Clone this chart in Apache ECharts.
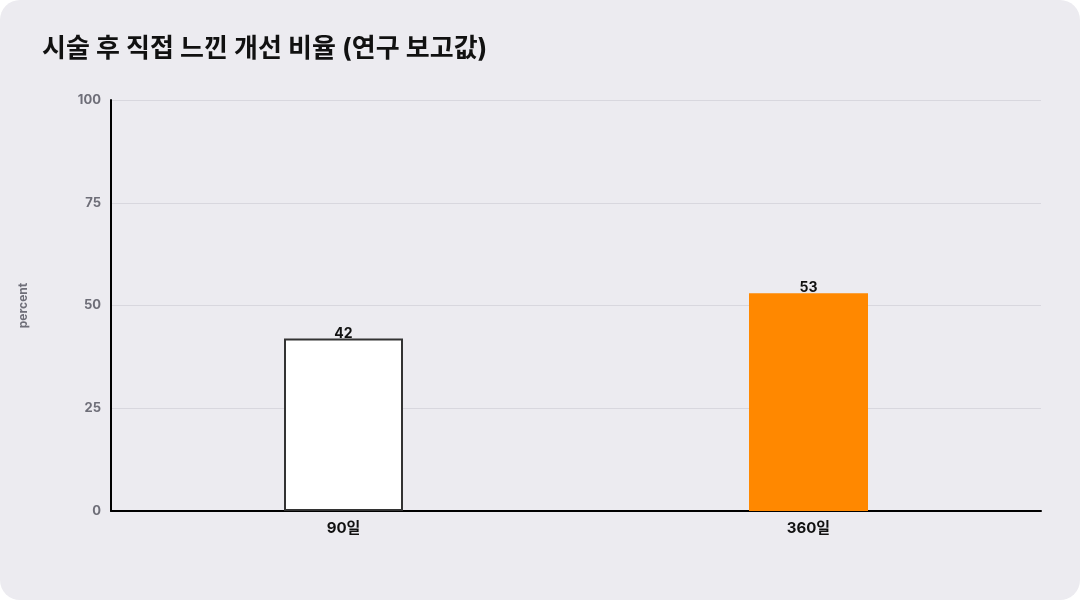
<!DOCTYPE html>
<html>
<head>
<meta charset="utf-8">
<script src="https://cdn.jsdelivr.net/npm/echarts@6/dist/echarts.min.js"></script>
<style>
    html, body { margin: 0; padding: 0; background: #ffffff; }
    #chart {
        width: 1080px;
        height: 600px;
        background: #ecebf0;
        border-radius: 20px;
        overflow: hidden;
    }
</style>
</head>
<body>
<div id="chart"></div>
<script>
// 데이터
var categories = ['90일', '360일'];
var values = [42, 53];
var yTicks = [0, 25, 50, 75, 100];

var font = "Inter, 'Noto Sans CJK KR', sans-serif";

var myChart = echarts.init(document.getElementById('chart'));

var option = {
    title: {
        text: '시술 후 직접 느낀 개선 비율 (연구 보고값)',
        left: 37,
        top: 31,
        textStyle: {
            fontFamily: font,
            fontSize: 26,
            fontWeight: 'bold',
            color: '#111111'
        }
    },
    grid: {
        left: 111,
        right: 39,
        top: 100,
        bottom: 89
    },
    xAxis: {
        type: 'category',
        data: categories,
        axisLine: { lineStyle: { color: '#000000', width: 2 } },
        axisTick: { show: false },
        axisLabel: {
            fontFamily: font,
            fontSize: 15,
            fontWeight: 'bold',
            color: '#111111',
            margin: 10
        }
    },
    yAxis: {
        type: 'value',
        min: yTicks[0],
        max: yTicks[yTicks.length - 1],
        interval: 25,
        name: 'percent',
        nameLocation: 'middle',
        nameGap: 82,
        nameRotate: 90,
        nameTextStyle: {
            fontFamily: font,
            fontSize: 12,
            fontWeight: 'bold',
            color: '#6e6e78'
        },
        axisLine: { show: true, lineStyle: { color: '#000000', width: 2 } },
        axisTick: { show: false },
        axisLabel: {
            fontFamily: font,
            fontSize: 13,
            fontWeight: 'bold',
            color: '#6e6e78',
            margin: 10
        },
        splitLine: { lineStyle: { color: '#d8d7de', width: 1 } }
    },
    series: [{
        type: 'bar',
        barWidth: 119,
        data: [
            {
                value: values[0],
                itemStyle: { color: '#ffffff', borderColor: '#333333', borderWidth: 2 }
            },
            {
                value: values[1],
                itemStyle: { color: '#ff8800' }
            }
        ],
        label: {
            show: true,
            position: 'top',
            distance: -2,
            fontFamily: font,
            fontSize: 14,
            fontWeight: 'bold',
            color: '#111111'
        }
    }],
    animation: false
};

myChart.setOption(option);
</script>
</body>
</html>
